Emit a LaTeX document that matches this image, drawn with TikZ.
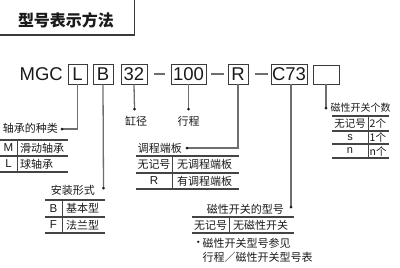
\documentclass[tikz,border=0pt]{standalone}
\usepackage{fontspec}
\setmainfont{Liberation Sans}
\newfontfamily\cjk{Noto Sans CJK SC}
\definecolor{ink}{HTML}{1A1A1A}
\definecolor{boxline}{HTML}{3A3A3A}
\definecolor{leadline}{HTML}{6E6E6E}
\definecolor{tabline}{HTML}{444444}
\begin{document}
\begin{tikzpicture}[x=1pt,y=-1pt,
  code/.style={draw=boxline,line width=0.9pt,minimum height=20pt,inner sep=0pt,font=\fontsize{18.5}{18.5}\selectfont,text=ink},
  lead/.style={draw=leadline,line width=1.3pt},
  dotmark/.style={circle,fill=ink,inner sep=0pt,minimum size=3pt},
  lbl/.style={inner sep=0pt,font=\cjk\fontsize{11}{11}\selectfont,text=ink},
  cell/.style={inner sep=0pt,font=\cjk\fontsize{11}{11}\selectfont,text=ink},
  lat/.style={inner sep=0pt,font=\fontsize{11.5}{11.5}\selectfont,text=ink},
  hline/.style={draw=tabline,line width=1.4pt},
  vline/.style={draw=tabline,line width=0.9pt},
  dashline/.style={draw=leadline,line width=1.3pt}]
\useasboundingbox (0,0) rectangle (400,268);
% title
\draw[boxline,line width=1.2pt] (-2,-2) rectangle (134.5,35);
\node[inner sep=0pt,font=\cjk\bfseries\fontsize{16}{16}\selectfont,text=ink] (title) at (66,20) {型号表示方法};
% code row
\node[inner sep=0pt,anchor=east,font=\fontsize{18.5}{18.5}\selectfont,text=ink] (mgc) at (63,74) {MGC};
\node[code,minimum width=19pt] (L) at (77.5,74) {L};
\node[code,minimum width=20pt] (B) at (103,74) {B};
\node[code,minimum width=26pt] (n32) at (134,74) {32};
\node[code,minimum width=35pt] (n100) at (188.5,74) {100};
\node[code,minimum width=20pt] (R) at (238,74) {R};
\node[code,minimum width=36pt] (C) at (289,74) {C73};
\node[code,minimum width=26pt,minimum height=19pt] (E) at (326,74.5) {};
% dashes
\coordinate (da1) at (154,74); \coordinate (da2) at (165,74);
\coordinate (db1) at (211,74); \coordinate (db2) at (224,74);
\coordinate (dc1) at (255,74); \coordinate (dc2) at (268,74);
\draw[dashline] (da1) -- (da2);
\draw[dashline] (db1) -- (db2);
\draw[dashline] (dc1) -- (dc2);
% leader end points
\coordinate (pL) at (62,129);
\coordinate (pB) at (103.5,188);
\coordinate (p32) at (134.5,109);
\coordinate (p100) at (188.5,109);
\coordinate (pR) at (187,148);
\coordinate (pC) at (291,207);
\coordinate (pE) at (326,108);
\draw[lead] (L.south) |- (pL);
\draw[lead] (B.south) -- (pB);
\draw[lead] (n32.south) -- (p32);
\draw[lead] (n100.south) -- (p100);
\draw[lead] (R.south) |- (pR);
\draw[lead] (C.south -| pC) -- (pC);
\draw[lead] (E.south) -- (pE);
\foreach \p in {pL,pB,p32,p100,pR,pC,pE} \node[dotmark] at (\p) {};
% labels
\node[lbl,anchor=east] (lL) at (58,128.5) {轴承的种类};
\node[lbl,anchor=east] (lB) at (95,190.5) {安装形式};
\node[lbl] (l32) at (136,121) {缸径};
\node[lbl] (l100) at (188.5,121) {行程};
\node[lbl,anchor=east] (lR) at (182,148) {调程端板};
\node[lbl,anchor=east] (lC) at (284,209) {磁性开关的型号};
\node[lbl,anchor=west,font=\cjk\fontsize{10}{10}\selectfont] (lE) at (330.5,108) {磁性开关个数};
% table 1 bearing
\coordinate (t1a) at (0,140); \coordinate (t1b) at (68,140);
\coordinate (t1c) at (0,156); \coordinate (t1d) at (68,156);
\coordinate (t1e) at (0,172); \coordinate (t1f) at (68,172);
\coordinate (t1g) at (17,140); \coordinate (t1h) at (17,172);
\draw[hline] (t1a) -- (t1b); \draw[hline] (t1c) -- (t1d); \draw[hline] (t1e) -- (t1f);
\draw[vline] (t1g) -- (t1h);
\node[lat] (c1a) at (8.5,148) {M};
\node[cell,anchor=west] (c1b) at (20,148) {滑动轴承};
\node[lat] (c1c) at (8.5,164) {L};
\node[cell,anchor=west] (c1d) at (20,164) {球轴承};
% table 2 mounting
\coordinate (t2a) at (45,200); \coordinate (t2b) at (105,200);
\coordinate (t2c) at (45,217); \coordinate (t2d) at (105,217);
\coordinate (t2e) at (45,233); \coordinate (t2f) at (105,233);
\coordinate (t2g) at (62,200); \coordinate (t2h) at (62,233);
\draw[hline] (t2a) -- (t2b); \draw[hline] (t2c) -- (t2d); \draw[hline] (t2e) -- (t2f);
\draw[vline] (t2g) -- (t2h);
\node[lat] (c2a) at (53.5,208.5) {B};
\node[cell,anchor=west] (c2b) at (66,208.5) {基本型};
\node[lat] (c2c) at (53.5,225) {F};
\node[cell,anchor=west] (c2d) at (66,225) {法兰型};
% table 3 stroke adjuster
\coordinate (t3a) at (136,156); \coordinate (t3b) at (239,156);
\coordinate (t3c) at (136,173); \coordinate (t3d) at (239,173);
\coordinate (t3e) at (136,189); \coordinate (t3f) at (239,189);
\coordinate (t3g) at (172,156); \coordinate (t3h) at (172,189);
\draw[hline] (t3a) -- (t3b); \draw[hline] (t3c) -- (t3d); \draw[hline] (t3e) -- (t3f);
\draw[vline] (t3g) -- (t3h);
\node[cell] (c3a) at (154,164.5) {无记号};
\node[cell,anchor=west] (c3b) at (177,164.5) {无调程端板};
\node[lat] (c3c) at (154,181) {R};
\node[cell,anchor=west] (c3d) at (177,181) {有调程端板};
% table 4 switch type
\coordinate (t4a) at (192,217); \coordinate (t4b) at (294,217);
\coordinate (t4c) at (192,233); \coordinate (t4d) at (294,233);
\coordinate (t4g) at (229,217); \coordinate (t4h) at (229,233);
\draw[hline] (t4a) -- (t4b); \draw[hline] (t4c) -- (t4d);
\draw[vline] (t4g) -- (t4h);
\node[cell] (c4a) at (210.5,225) {无记号};
\node[cell,anchor=west] (c4b) at (233,225) {无磁性开关};
% note
\node[inner sep=0pt,text=ink,font=\cjk\fontsize{11}{11}\selectfont] (nb) at (198.5,243.5) {•};
\node[cell,anchor=west] (n1) at (202.5,243) {磁性开关型号参见};
\node[cell,anchor=west] (n2) at (202.5,257) {行程／磁性开关型号表};
% table 5 switch count
\coordinate (t5a) at (332,116); \coordinate (t5b) at (389,116);
\coordinate (t5c) at (332,131); \coordinate (t5d) at (389,131);
\coordinate (t5e) at (332,144); \coordinate (t5f) at (389,144);
\coordinate (t5i) at (332,158); \coordinate (t5j) at (389,158);
\coordinate (t5g) at (368,116); \coordinate (t5h) at (368,158);
\draw[hline] (t5a) -- (t5b); \draw[hline] (t5c) -- (t5d); \draw[hline] (t5e) -- (t5f); \draw[hline] (t5i) -- (t5j);
\draw[vline] (t5g) -- (t5h);
\node[cell,font=\cjk\fontsize{10.5}{10.5}\selectfont] (c5a) at (350,123.5) {无记号};
\node[cell,anchor=west,font=\cjk\fontsize{10.5}{10.5}\selectfont] (c5b) at (369.5,123.5) {2个};
\node[lat,font=\fontsize{11}{11}\selectfont] (c5c) at (350,137.5) {s};
\node[cell,anchor=west,font=\cjk\fontsize{10.5}{10.5}\selectfont] (c5d) at (369.5,137.5) {1个};
\node[lat,font=\fontsize{11}{11}\selectfont] (c5e) at (350,151) {n};
\node[cell,anchor=west,font=\cjk\fontsize{10.5}{10.5}\selectfont] (c5f) at (369.5,151) {n个};
\end{tikzpicture}
\end{document}
